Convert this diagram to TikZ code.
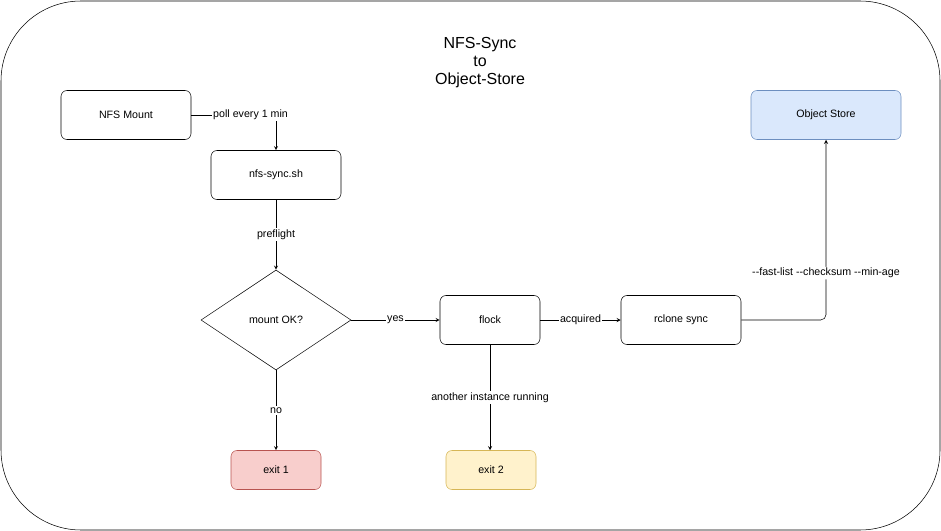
\documentclass[tikz,border=0pt]{standalone}
\usepackage{fontspec}
\setmainfont{Liberation Sans}
\usetikzlibrary{arrows,positioning,shapes.geometric}

\begin{document}
\begin{tikzpicture}[x=0.75pt, y=-0.75pt, font=\fontsize{8}{9.6}\selectfont,
	box/.style={rectangle, rounded corners=4.5pt, draw, thin, minimum width=97.5pt, minimum height=36.75pt},
	lbl/.style={fill=white, inner sep=1pt},
	link/.style={-stealth, thin}]
	\useasboundingbox (0,0) rectangle (941,531);
	\draw[rounded corners=60pt] (1,1) rectangle (940,530);
	\node[align=center, font=\fontsize{12}{13.5}\selectfont] (title) at (480,63) {NFS-Sync\\to\\Object-Store};

	\node[box] (mount) at (126,115) {NFS Mount};
	\node[box] (script) at (276,175) {nfs-sync.sh};
	\node[diamond, draw, thin, minimum width=112.5pt, minimum height=75pt, aspect=1.5, inner sep=0pt] (check) at (276,320) {mount OK?};
	\node[box, minimum width=75pt] (flock) at (490,320) {flock};
	\node[box, minimum width=90pt] (rclone) at (681,320) {rclone sync};
	\node[box, minimum width=112.5pt, draw={rgb,255:red,108;green,142;blue,191}, fill={rgb,255:red,218;green,232;blue,252}] (store) at (826,115) {Object Store};
	\node[box, minimum width=67.5pt, minimum height=29.25pt, draw={rgb,255:red,184;green,84;blue,80}, fill={rgb,255:red,248;green,206;blue,204}] (exita) at (276,470) {exit 1};
	\node[box, minimum width=67.5pt, minimum height=29.25pt, draw={rgb,255:red,214;green,182;blue,86}, fill={rgb,255:red,255;green,242;blue,204}] (exitb) at (491,470) {exit 2};

	\draw[link] (mount.east) -| node[lbl, pos=0.35] {poll every 1 min} (script.north);
	\draw[link] (script) -- node[lbl] {preflight} (check);
	\draw[link] (check) -- node[lbl] {yes} (flock);
	\draw[link] (check) -- node[lbl] {no} (exita);
	\draw[link] (flock) -- node[lbl] {acquired} (rclone);
	\draw[link] (flock.south) -- node[lbl, pos=0.5] {another instance running} (flock.south |- exitb.north);
	\draw[link, rounded corners=4pt] (rclone.east) -| node[lbl, pos=0.63] {-{}-fast-list -{}-checksum -{}-min-age} (store.south);
\end{tikzpicture}
\end{document}
